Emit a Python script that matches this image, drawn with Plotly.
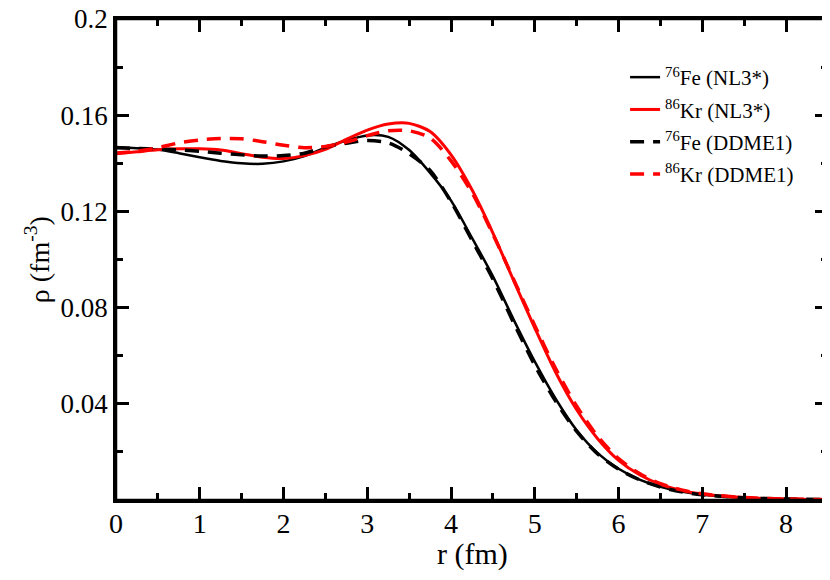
import plotly.graph_objects as go

# radial grid (fm)
r = [0.0, 0.25, 0.5, 0.75, 1.0, 1.25, 1.5, 1.75, 2.0, 2.25, 2.5, 2.75,
     3.0, 3.25, 3.5, 3.75, 4.0, 4.25, 4.5, 4.75, 5.0, 5.25, 5.5, 5.75,
     6.0, 6.25, 6.5, 6.75, 7.0, 7.5, 8.0, 8.5]

# densities (fm^-3)
fe_nl3 = [0.1468, 0.1463, 0.1457, 0.1442, 0.1425, 0.1410, 0.1400, 0.1398,
          0.1408, 0.1430, 0.1465, 0.1495, 0.1516, 0.1510, 0.1455, 0.1360,
          0.1245, 0.1090, 0.0930, 0.0748, 0.0575, 0.0420, 0.0290, 0.0195,
          0.0130, 0.0085, 0.0055, 0.0035, 0.0022, 0.0009, 0.0004, 0.0002]
kr_nl3 = [0.1440, 0.1448, 0.1456, 0.1460, 0.1460, 0.1455, 0.1440, 0.1425,
          0.1420, 0.1432, 0.1458, 0.1500, 0.1538, 0.1563, 0.1566, 0.1532,
          0.1435, 0.1290, 0.1110, 0.0910, 0.0715, 0.0530, 0.0375, 0.0255,
          0.0165, 0.0105, 0.0065, 0.0040, 0.0025, 0.0010, 0.0004, 0.0002]
fe_ddme1 = [0.1465, 0.1462, 0.1459, 0.1456, 0.1450, 0.1442, 0.1435, 0.1430,
            0.1432, 0.1442, 0.1468, 0.1483, 0.1495, 0.1485, 0.1440, 0.1370,
            0.1240, 0.1080, 0.0918, 0.0735, 0.0560, 0.0410, 0.0285, 0.0192,
            0.0128, 0.0084, 0.0054, 0.0034, 0.0022, 0.0009, 0.0004, 0.0002]
kr_ddme1 = [0.1443, 0.1450, 0.1465, 0.1485, 0.1497, 0.1503, 0.1502, 0.1490,
            0.1475, 0.1465, 0.1470, 0.1488, 0.1515, 0.1535, 0.1535, 0.1505,
            0.1410, 0.1278, 0.1105, 0.0915, 0.0725, 0.0545, 0.0390, 0.0265,
            0.0172, 0.0110, 0.0068, 0.0042, 0.0026, 0.0010, 0.0004, 0.0002]

y_ticks = [0.04, 0.08, 0.12, 0.16, 0.2]
y_ticktext = ["0.04", "0.08", "0.12", "0.16", "0.2"]

FONT = "Liberation Serif"

fig = go.Figure()

series = [
    ("<sup>76</sup>Fe (NL3*)", fe_nl3, "black", "solid", 2.5),
    ("<sup>86</sup>Kr (NL3*)", kr_nl3, "red", "solid", 3),
    ("<sup>76</sup>Fe (DDME1)", fe_ddme1, "black", "14px,9px", 3.5),
    ("<sup>86</sup>Kr (DDME1)", kr_ddme1, "red", "14px,9px", 3.5),
]
for name, rho, color, dash, w in series:
    fig.add_trace(go.Scatter(
        x=r, y=rho, mode="lines", name=name,
        line=dict(color=color, dash=dash, width=w, shape="spline", smoothing=0.8),
        legendgroup=name,
    ))

axis_common = dict(
    showline=True, linecolor="black", linewidth=2.5, mirror="ticks",
    ticks="inside", ticklen=13, tickwidth=2.5, tickcolor="black",
    showgrid=False, zeroline=False, ticklabeloverflow="allow",
    automargin=False,
)

fig.update_xaxes(
    range=[0, 8.5], dtick=1, tick0=0,
    tickfont=dict(family=FONT, size=28, color="black"),
    ticklabelstandoff=-3,
    minor=dict(dtick=0.5, ticks="inside", ticklen=7, tickwidth=2.5, tickcolor="black"),
    **axis_common,
)
fig.update_yaxes(
    range=[0, 0.2], tickmode="array", tickvals=y_ticks, ticktext=y_ticktext,
    tickfont=dict(family=FONT, size=27, color="black"),
    minor=dict(tickmode="linear", tick0=0, dtick=0.02, ticks="inside",
               ticklen=7, tickwidth=2.5, tickcolor="black"),
    **axis_common,
)

# box frame around the plotting area
fig.add_shape(type="rect", xref="paper", yref="paper", x0=0, x1=1, y0=0, y1=1,
              line=dict(color="black", width=2.5), layer="above")

# axis titles as annotations so they sit where the original puts them
fig.add_annotation(text="r (fm)", xref="paper", yref="paper", x=0.5, y=-0.112,
                   xanchor="center", yanchor="middle", showarrow=False,
                   font=dict(family=FONT, size=30, color="black"))
fig.add_annotation(text="ρ (fm<sup>-3</sup>)", xref="paper", yref="paper",
                   x=-0.11, y=0.5, xanchor="center", yanchor="middle",
                   textangle=-90, showarrow=False,
                   font=dict(family=FONT, size=28, color="black"))

# page has an 8px body margin, so the figure is sized to fit inside the window
fig.update_layout(
    width=822, height=572,
    margin=dict(l=108, r=2, t=11, b=80),
    paper_bgcolor="white", plot_bgcolor="white",
    font=dict(family=FONT, color="black"),
    showlegend=True,
    legend=dict(
        x=0.715, y=0.921, xanchor="left", yanchor="top",
        font=dict(family=FONT, size=21, color="black"),
        bgcolor="rgba(0,0,0,0)", borderwidth=0,
        tracegroupgap=2,
    ),
)

fig.write_html("out.html")
